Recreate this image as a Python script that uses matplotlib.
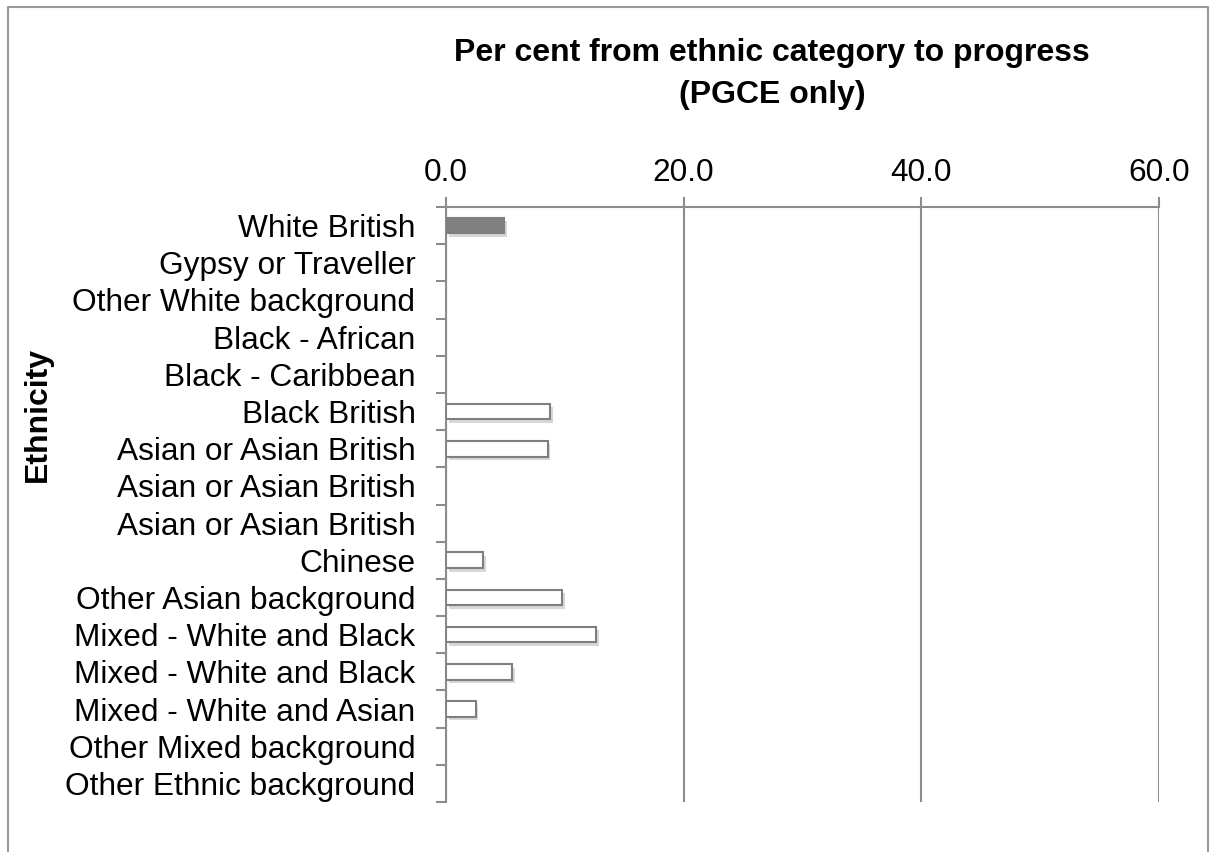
import matplotlib
matplotlib.use("Agg")
from matplotlib import pyplot as plt
from matplotlib import patheffects as pe
from matplotlib.lines import Line2D

plt.rcParams['font.family'] = ['Liberation Sans', 'DejaVu Sans']

ethnicities = ["White British", "Gypsy or Traveller", "Other White background",
               "Black - African", "Black - Caribbean", "Black British",
               "Asian or Asian British", "Asian or Asian British", "Asian or Asian British",
               "Chinese", "Other Asian background", "Mixed - White and Black",
               "Mixed - White and Black", "Mixed - White and Asian",
               "Other Mixed background", "Other Ethnic background"]
percent = [4.9, 0, 0, 0, 0, 8.75, 8.55, 0, 0, 3.1, 9.8, 12.6, 5.55, 2.5, 0, 0]
fills = ["#808080"] + ["white"] * 15
xticks = [0, 20, 40, 60]
xticklabels = ["0.0", "20.0", "40.0", "60.0"]

grey = "#8c8c8c"
fig = plt.figure(figsize=(12.1, 8.52), dpi=100)
ax = fig.add_axes([446/1210, 1 - 802/852, 713/1210, 595/852])

ypos = list(range(len(ethnicities)))
bars = ax.barh(ypos, percent, height=0.42, color=fills, edgecolor="#7f7f7f",
               linewidth=1.5, zorder=3)
for b, v in zip(bars, percent):
    if v > 0:
        b.set_path_effects([pe.SimplePatchShadow(offset=(2, -2.5), shadow_rgbFace="#b0b0b0", alpha=0.5),
                            pe.Normal()])
    else:
        b.set_visible(False)

ax.set_xlim(0, 60)
ax.set_ylim(15.5, -0.5)
ax.xaxis.tick_top()
ax.set_xticks(xticks)
ax.set_xticklabels(xticklabels, fontsize=22.8)
ax.tick_params(axis="x", length=7.5, width=1.5, color=grey, pad=6.5)
ax.grid(axis="x", color=grey, linewidth=1.5, zorder=0)

ax.set_yticks(ypos)
ax.set_yticklabels(ethnicities, fontsize=22.8)
ax.tick_params(axis="y", length=0, pad=22)
ax.set_yticks([i - 0.5 for i in range(len(ethnicities) + 1)], minor=True)
ax.tick_params(axis="y", which="minor", length=7, width=1.5, color=grey)

for s in ["right", "bottom"]:
    ax.spines[s].set_visible(False)
for s in ["left", "top"]:
    ax.spines[s].set_color(grey)
    ax.spines[s].set_linewidth(1.5)

fig.text(772/1210, 1 - 53/852, "Per cent from ethnic category to progress",
         ha="center", va="center", fontsize=23, fontweight="bold")
fig.text(772/1210, 1 - 95/852, "(PGCE only)",
         ha="center", va="center", fontsize=23, fontweight="bold")
fig.text(38/1210, 1 - 415/852, "Ethnicity", rotation=90,
         ha="center", va="center", fontsize=23, fontweight="bold")

# outer chart border (left, top, right)
border = Line2D([8/1210, 8/1210, 1208/1210, 1208/1210],
                [0, 1 - 7/852, 1 - 7/852, 0], transform=fig.transFigure,
                color="#999999", linewidth=1.5)
fig.add_artist(border)

fig.savefig("out.png", dpi=100)
plt.close()
